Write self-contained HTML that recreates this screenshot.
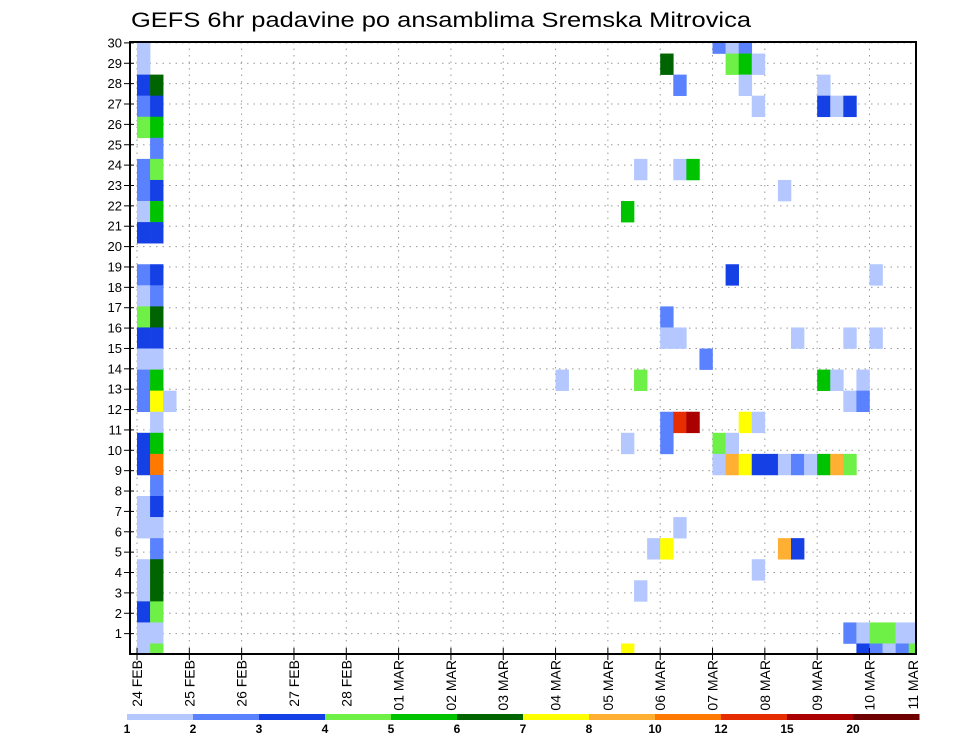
<!DOCTYPE html>
<html><head><meta charset="utf-8"><style>
html,body{margin:0;padding:0;background:#fff;}
svg{display:block;font-family:"Liberation Sans",sans-serif;}
</style></head><body>
<svg id="chart" width="960" height="742" viewBox="0 0 960 742" xmlns="http://www.w3.org/2000/svg">
<text x="131" y="27" font-size="21" textLength="620" lengthAdjust="spacingAndGlyphs" fill="#000">GEFS 6hr padavine po ansamblima Sremska Mitrovica</text>
<g id="grid"></g>
<g id="cells"></g>
<g id="axes"></g>
<g id="legend"></g>
</svg>
<script>
// ---- data ----
const dayLabels = ["24 FEB","25 FEB","26 FEB","27 FEB","28 FEB","01 MAR","02 MAR","03 MAR","04 MAR","05 MAR","06 MAR","07 MAR","08 MAR","09 MAR","10 MAR","11 MAR"];
const memberTicks = [1,2,3,4,5,6,7,8,9,10,11,12,13,14,15,16,17,18,19,20,21,22,23,24,25,26,27,28,29,30];
const levelBounds = [1,2,3,4,5,6,7,8,10,12,15,20];
const levelColors = ["#b4c8ff","#5a82ff","#1440e6","#6ef046","#00c300","#006400","#ffff00","#ffaf32","#ff7800","#e62d00","#aa0000","#6e0000"];
// cells: member index (0 = bottom), 6-hour step index (0 = 24 FEB 00z), precipitation (mm)
const cellMember = [
 29,28,27,27,26,26,25,25,24,23,23,22,22,21,21,20,20,18,18,17,17,16,16,15,15,14,14,13,13,12,12,12,11,10,10,9,9,8,7,7,6,6,5,4,4,3,3,2,2,1,1,0,0,
 29,29,29,28,28,28,28,27,27,27,26,26,26,26,23,23,23,22,21,18,18,16,15,15,15,15,15,14,13,13,13,13,13,12,12,11,11,11,11,11,10,10,10,10,
 9,9,9,9,9,9,9,9,9,9,9,6,5,5,5,5,4,3,1,1,1,1,1,1,0,0,0,0,0,0];
const cellStep = [
 0,0,0,1,0,1,0,1,1,0,1,0,1,0,1,0,1,0,1,0,1,0,1,0,1,0,1,0,1,0,1,2,1,0,1,0,1,1,0,1,0,1,1,0,1,0,1,0,1,0,1,0,1,
 44,45,46,40,45,46,47,41,46,52,47,52,53,54,38,41,42,49,37,45,56,40,40,41,50,54,56,43,32,38,52,53,55,54,55,40,41,42,46,47,37,40,44,45,
 44,45,46,47,48,49,50,51,52,53,54,41,39,40,49,50,47,38,54,55,56,57,58,59,37,55,56,57,58,59];
const cellPrecip = [
 1.5,1.5,3.5,6.5,2.5,3.5,4.5,5.5,2.5,2.5,4.5,2.5,3.5,1.5,5.5,3.5,3.5,2.5,3.5,1.5,2.5,4.5,6.5,3.5,3.5,1.5,1.5,2.5,5.5,2.5,7.5,1.5,1.5,3.5,5.5,3.5,11,2.5,1.5,3.5,1.5,1.5,2.5,1.5,6.5,1.5,6.5,3.5,4.5,1.5,1.5,1.5,4.5,
 2.5,1.5,2.5,6.5,4.5,5.5,1.5,2.5,1.5,1.5,1.5,3.5,1.5,3.5,1.5,1.5,5.5,1.5,5.5,3.5,1.5,2.5,1.5,1.5,1.5,1.5,1.5,2.5,1.5,4.5,5.5,1.5,1.5,1.5,2.5,2.5,13.5,17.5,7.5,1.5,1.5,2.5,4.5,1.5,
 1.5,9,7.5,3.5,3.5,1.5,2.5,1.5,5.5,9,4.5,1.5,1.5,7.5,9,3.5,1.5,1.5,2.5,1.5,4.5,4.5,1.5,1.5,7.5,3.5,2.5,1.5,2.5,4.5];
</script>
<script>
const NS = "http://www.w3.org/2000/svg";
const PL = 130, PR = 916, PT = 42, PB = 654;
const X0 = 137, DAY = 52.32, STEP = DAY / 4;
const CELL_H = 21.07, CELL_BASE = 643.5;
function xDay(d){ return X0 + d * DAY; }
function xStep(s){ return X0 + s * STEP; }
function yTick(k){ return PB - k * 20.37; }
function yCellTop(m){ return CELL_BASE - m * CELL_H; }
function colorFor(v){
  let idx = -1;
  for (let i = 0; i < levelBounds.length; i++) if (v >= levelBounds[i]) idx = i;
  return idx < 0 ? null : levelColors[idx];
}
function mk(tag, attrs, parent){
  const e = document.createElementNS(NS, tag);
  for (const k in attrs) e.setAttribute(k, attrs[k]);
  parent.appendChild(e);
  return e;
}
const grid = document.getElementById("grid");
const cells = document.getElementById("cells");
const axes = document.getElementById("axes");
const legend = document.getElementById("legend");

memberTicks.forEach(k => {
  const l = mk("line", {x1:PL, x2:PR, y1:yTick(k), y2:yTick(k), stroke:"#999", "stroke-width":1, "stroke-dasharray":"1.5,5"}, grid);
  
  
});
dayLabels.forEach((lab, d) => {
  const x = xDay(d);
  if (x > PR) return;
  const l = mk("line", {x1:x, x2:x, y1:PT, y2:PB, stroke:"#999", "stroke-width":1, "stroke-dasharray":"1.5,5"}, grid);
  
  
});

const clip = mk("clipPath", {id:"plotclip"}, document.getElementById("chart"));
mk("rect", {x:PL, y:PT, width:PR-PL, height:PB-PT}, clip);
cells.setAttribute("clip-path", "url(#plotclip)");
for (let i = 0; i < cellMember.length; i++) {
  const c = colorFor(cellPrecip[i]);
  if (!c) continue;
  const r = mk("rect", {x:xStep(cellStep[i]), y:yCellTop(cellMember[i]), width:STEP+0.3, height:CELL_H+0.3, fill:c}, cells);
  
  
}

const frame = mk("rect", {x:PL, y:PT, width:PR-PL, height:PB-PT, fill:"none", stroke:"#000", "stroke-width":2}, axes);



memberTicks.forEach(k => {
  const y = yTick(k);
  mk("line", {x1:PL-6, x2:PL+4, y1:y, y2:y, stroke:"#000", "stroke-width":1}, axes);
  const t = mk("text", {x:PL-8, y:y+4.5, "font-size":13, "text-anchor":"end", fill:"#000"}, axes);
  t.textContent = k;
  
  
});

dayLabels.forEach((lab, d) => {
  let x = xDay(d);
  if (x <= PR) mk("line", {x1:x, x2:x, y1:PB-6, y2:PB+6, stroke:"#000", "stroke-width":1}, axes);
  if (x > PR) x = 913;
  const t = mk("text", {x:0, y:0, "font-size":14, "text-anchor":"end", fill:"#000",
    transform:`translate(${x+5},${PB+6}) rotate(-90)`}, axes);
  t.textContent = lab;
  
  
});

const LX0 = 127, LW = 66, LY = 714;
levelColors.forEach((c, i) => {
  const r = mk("rect", {x:LX0 + i*LW, y:LY, width:LW+0.5, height:6, fill:c}, legend);
  
  
});
levelBounds.forEach((v, i) => {
  const t = mk("text", {x:LX0 + i*LW, y:733, "font-size":12, "font-weight":"bold", "text-anchor":"middle", fill:"#000"}, legend);
  t.textContent = v;
  
  
});
</script>
</body></html>
